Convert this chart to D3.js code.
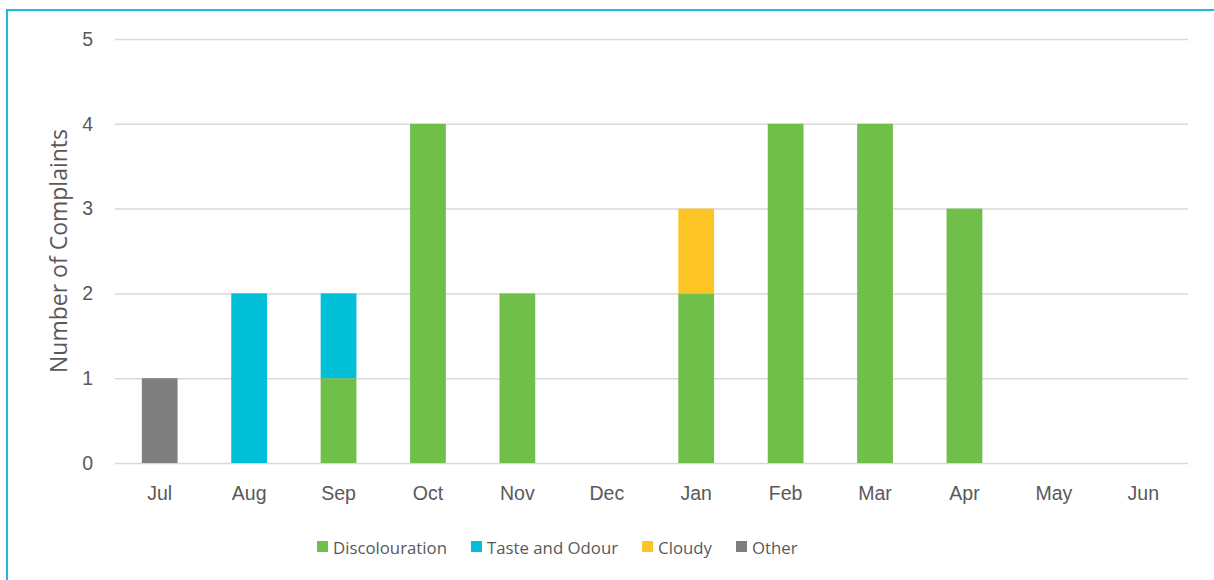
<!DOCTYPE html>
<html>
<head>
<meta charset="utf-8">
<script src="https://cdn.jsdelivr.net/npm/d3@7"></script>
<style>
  body { margin: 0; background: #fff; }
  svg { display: block; font-family: "Open Sans", "Noto Sans", sans-serif; }
</style>
</head>
<body>
<div id="chart"></div>
<script>
// data
const months = ["Jul", "Aug", "Sep", "Oct", "Nov", "Dec", "Jan", "Feb", "Mar", "Apr", "May", "Jun"]
const discolouration = [0, 0, 1, 4, 2, 0, 2, 4, 4, 3, 0, 0]
const tasteOdour = [0, 2, 1, 0, 0, 0, 0, 0, 0, 0, 0, 0]
const cloudy = [0, 0, 0, 0, 0, 0, 1, 0, 0, 0, 0, 0]
const other = [1, 0, 0, 0, 0, 0, 0, 0, 0, 0, 0, 0]
const seriesNames = ["Discolouration", "Taste and Odour", "Cloudy", "Other"]
const seriesColors = ["#70bf4a", "#00bfd7", "#fdc425", "#7f7f7f"]
const yTicks = [0, 1, 2, 3, 4, 5]

const width = 1214
const height = 580
const margins = {top: 39, right: 26, bottom: 117, left: 115}
const boundedWidth = width - margins.left - margins.right
const boundedHeight = height - margins.top - margins.bottom

const table = months.map((m, i) => ({
  month: m,
  "Discolouration": discolouration[i],
  "Taste and Odour": tasteOdour[i],
  "Cloudy": cloudy[i],
  "Other": other[i],
}))
const stacked = d3.stack().keys(seriesNames)(table)

const svg = d3.select("#chart")
  .append("svg")
  .attr("width", width)
  .attr("height", height)

// frame (only top and left edges are visible in the picture)
svg.append("rect")
  .attr("x", 7)
  .attr("y", 10)
  .attr("width", width + 20)
  .attr("height", height + 20)
  .attr("fill", "none")
  .attr("stroke", "#17bdd4")
  .attr("stroke-width", 2)

const bounds = svg.append("g")
  .attr("transform", `translate(${margins.left}, ${margins.top})`)

// scales
const xScale = d3.scaleBand()
  .domain(months)
  .range([0, boundedWidth])
  .paddingInner(0.6)
  .paddingOuter(0.3)

const yScale = d3.scaleLinear()
  .domain([0, 5])
  .range([boundedHeight, 0])

const colorScale = d3.scaleOrdinal(seriesNames, seriesColors)

// gridlines
const yAxis = bounds.append("g")
  .call(d3.axisLeft(yScale)
    .tickValues(yTicks)
    .tickSize(-boundedWidth)
    .tickPadding(22)
    .tickFormat(d3.format("d")))
yAxis.select(".domain").remove()
yAxis.selectAll("line")
  .attr("stroke", "#d9d9d9")
  .attr("stroke-width", 1.5)
yAxis.selectAll("text")
  .attr("fill", "#595959")
  .style("font-size", "19.5px")

// bars
bounds.append("g")
  .selectAll("g")
  .data(stacked)
  .join("g")
    .attr("fill", d => colorScale(d.key))
  .selectAll("rect")
  .data(d => d)
  .join("rect")
    .attr("x", d => xScale(d.data.month))
    .attr("y", d => yScale(d[1]))
    .attr("width", xScale.bandwidth())
    .attr("height", d => yScale(d[0]) - yScale(d[1]))

// x axis labels
const xAxis = bounds.append("g")
  .attr("transform", `translate(0, ${boundedHeight})`)
  .call(d3.axisBottom(xScale).tickSize(0).tickPadding(23))
xAxis.select(".domain").remove()
xAxis.selectAll("text")
  .attr("fill", "#595959")
  .style("font-size", "19.5px")

// y axis label
svg.append("text")
  .attr("transform", `translate(67, ${margins.top + boundedHeight / 2}) rotate(-90)`)
  .attr("text-anchor", "middle")
  .attr("fill", "#595959")
  .style("font-size", "23px")
  .text("Number of Complaints")

// legend
const legend = svg.append("g")
  .attr("transform", "translate(317, 554)")
let cursor = 0
seriesNames.forEach(name => {
  const item = legend.append("g").attr("transform", `translate(${cursor}, 0)`)
  item.append("rect")
    .attr("x", 0)
    .attr("y", -13)
    .attr("width", 11)
    .attr("height", 11)
    .attr("fill", colorScale(name))
  const label = item.append("text")
    .attr("x", 16)
    .attr("fill", "#595959")
    .style("font-size", "16.8px")
    .text(name)
  cursor += 16 + label.node().getComputedTextLength() + 24
})
</script>
</body>
</html>
